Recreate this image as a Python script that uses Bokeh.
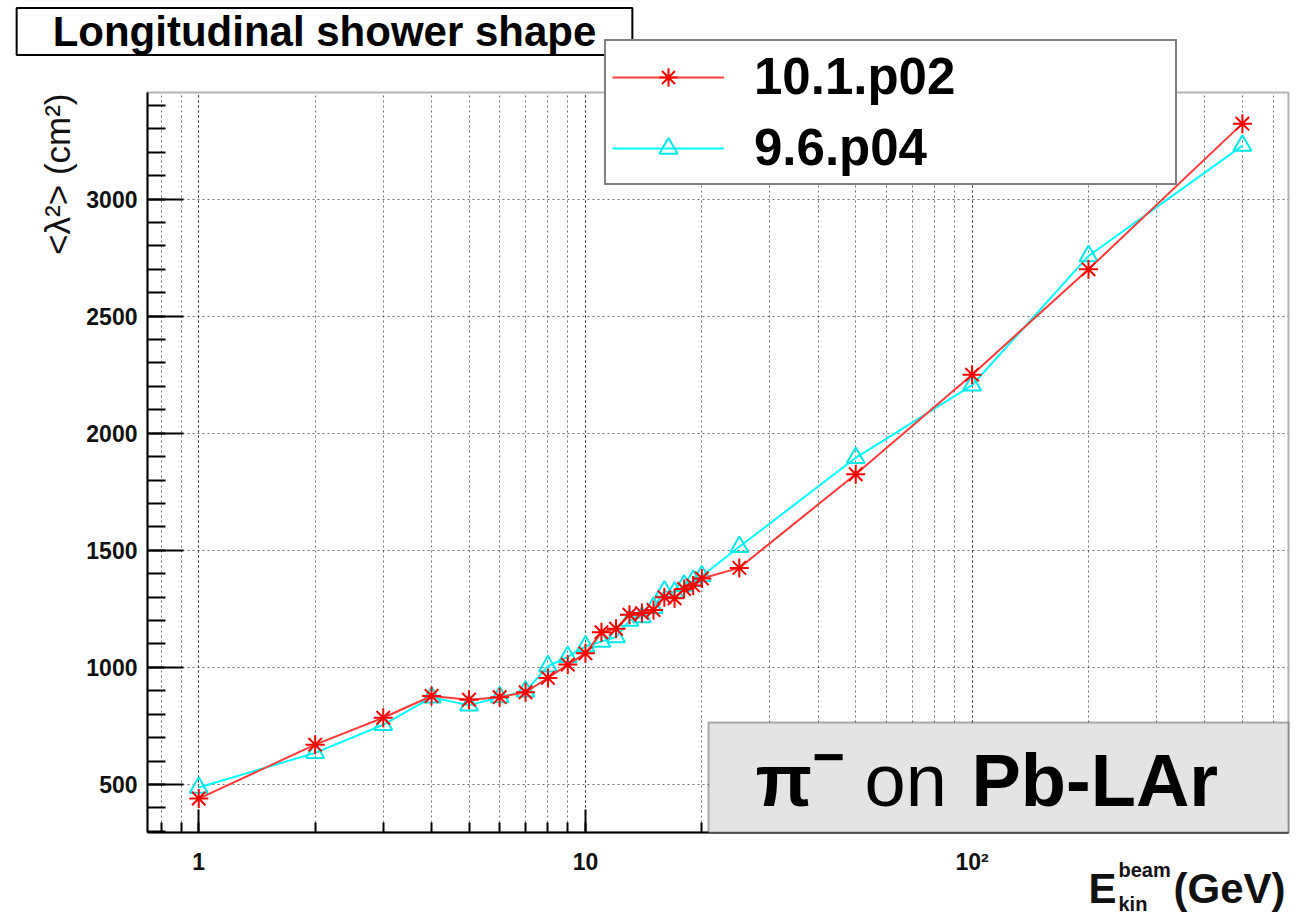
import math
from bokeh.plotting import figure
from bokeh.models import (Range1d, Label, Legend, LegendItem, BoxAnnotation,
                          SingleIntervalTicker, LogTicker)
from bokeh.embed import file_html
from bokeh.resources import INLINE

# ---- data ----
energy = [1, 2, 3, 4, 5, 6, 7, 8, 9, 10, 11, 12, 13, 14, 15, 16, 17, 18, 19, 20,
          25, 50, 100, 200, 500]
lam2_v101p02 = [440, 670, 785, 878, 862, 873, 894, 955, 1012, 1060, 1150, 1165, 1225,
                1232, 1245, 1300, 1295, 1335, 1350, 1380, 1425, 1825, 2250, 2700, 3322]
lam2_v96p04 = [487, 635, 755, 872, 838, 873, 898, 1005, 1045, 1090, 1110, 1130, 1200,
               1215, 1255, 1325, 1320, 1350, 1370, 1390, 1515, 1895, 2205, 2757, 3228]
series_names = ["10.1.p02", "9.6.p04"]
x_tick_labels = {1: "1", 10: "10", 100: "10\u00b2"}
x_lo, x_hi = 0.737, 658.0      # axis range of the plot frame
y_lo, y_hi = 295.0, 3455.0

# ---- layout (pixels on the canvas) ----
W, H = 1300, 918
FL, FR, FT, FB = 147, 1288, 92, 832     # the visible plot frame
FONT = "Liberation Sans"

dec_px = (math.log10(x_hi) - math.log10(x_lo)) / (FR - FL)
x_start = 10 ** (math.log10(x_lo) - FL * dec_px)
x_end = 10 ** (math.log10(x_hi) + (W - FR) * dec_px)
y_px = (y_hi - y_lo) / (FB - FT)
y_start = y_lo - (H - FB) * y_px
y_end = y_hi + FT * y_px


def sy(Y):
    return H - Y


def mid(baseline, size):
    # centre of a text box whose baseline lies at canvas row `baseline`
    return sy(baseline - 0.35 * size)


p = figure(x_axis_type="log", title=None,
           x_range=Range1d(x_start, x_end), y_range=Range1d(y_start, y_end),
           width=W, height=H, min_border=0,
           output_backend="svg", toolbar_location=None,
           background_fill_color="white", border_fill_color="white")
p.outline_line_color = None

# axes placed on the edges of the visible frame
p.xaxis.fixed_location = y_lo
p.yaxis.fixed_location = x_lo
p.xaxis.bounds = (x_lo, x_hi)
p.yaxis.bounds = (y_lo, y_hi)
p.yaxis.ticker = SingleIntervalTicker(interval=500, num_minor_ticks=5)
p.xaxis.ticker = LogTicker(mantissas=[1], num_minor_ticks=10)
p.xaxis.major_label_overrides = x_tick_labels
for ax in (p.xaxis[0], p.yaxis[0]):
    ax.axis_line_color = "black"
    ax.axis_line_width = 2
    ax.major_tick_line_color = "black"
    ax.minor_tick_line_color = "black"
    ax.major_tick_line_width = 2
    ax.minor_tick_line_width = 2
    ax.major_tick_out = 0
    ax.minor_tick_out = 0
    ax.major_label_text_font = FONT
    ax.major_label_text_font_style = "bold"
    ax.major_label_text_font_size = "23px"
    ax.major_label_text_color = "#111111"
p.yaxis.major_tick_in = 36
p.yaxis.minor_tick_in = 18
p.yaxis.major_label_standoff = 10
p.xaxis.major_tick_in = 23
p.xaxis.minor_tick_in = 10
p.xaxis.major_label_standoff = 16

# grid
GRID = "#333333"
p.xgrid.grid_line_color = GRID
p.xgrid.grid_line_dash = "2 3"
p.xgrid.grid_line_alpha = 0.7
p.xgrid.minor_grid_line_color = GRID
p.xgrid.minor_grid_line_dash = "2 3"
p.xgrid.minor_grid_line_alpha = 0.7
p.ygrid.grid_line_color = GRID
p.ygrid.grid_line_dash = "2 3"
p.ygrid.grid_line_alpha = 0.7
for g, cb in ((p.xgrid[0], (y_lo, y_hi)), (p.ygrid[0], (x_lo, x_hi))):
    if "cross_bounds" in g.properties():
        g.cross_bounds = cb

# white cover outside the visible frame (keeps grid lines inside it)
xa, xb = x_start * 0.5, x_end * 2
ya, yb = y_start - 500, y_end + 500
for kw in (dict(left=xa, right=xb, bottom=y_hi, top=yb),
           dict(left=xa, right=xb, bottom=ya, top=y_lo),
           dict(left=xa, right=x_lo, bottom=ya, top=yb),
           dict(left=x_hi, right=xb, bottom=ya, top=yb)):
    p.add_layout(BoxAnnotation(**kw, fill_color="white", fill_alpha=1,
                               line_color=None, level="underlay"))
# frame outline
p.add_layout(BoxAnnotation(left=x_lo, right=x_hi, bottom=y_lo, top=y_hi,
                           fill_alpha=0, line_color="black", line_width=2,
                           level="underlay"))

# data
l2 = p.line(energy, lam2_v96p04, line_color="#00ffff", line_width=2)
m2 = p.scatter(energy, lam2_v96p04, marker="triangle", size=18, fill_color=None,
               line_color="#00e8e8", line_width=2)
l1 = p.line(energy, lam2_v101p02, line_color="#ff3a3a", line_width=2)
m1 = p.scatter(energy, lam2_v101p02, marker="asterisk", size=19,
               line_color="#ff0000", line_width=2)

legend = Legend(items=[LegendItem(label=series_names[0], renderers=[l1, m1]),
                       LegendItem(label=series_names[1], renderers=[l2, m2])],
                location=(604, sy(185)), orientation="vertical",
                glyph_width=112, glyph_height=46, label_height=46, label_width=415,
                label_standoff=30, spacing=12, padding=6, margin=0,
                label_text_font=FONT, label_text_font_style="bold",
                label_text_font_size="51px", label_text_baseline="middle",
                label_text_color="black",
                border_line_color="black", border_line_width=2,
                background_fill_color="white", background_fill_alpha=1)
p.add_layout(legend, "center")

# title box
p.add_layout(Label(x=324, y=sy(31), x_units="screen", y_units="screen",
                   text="Longitudinal shower shape", text_font=FONT,
                   text_font_size="42px", text_font_style="bold", text_color="black",
                   text_align="center", text_baseline="middle",
                   background_fill_color="white", border_line_color="black",
                   border_line_width=2, padding=(36, 0)))

# pi box
p.add_layout(BoxAnnotation(left=708, right=FR, bottom=sy(FB), top=sy(722),
                           left_units="screen", right_units="screen",
                           bottom_units="screen", top_units="screen",
                           fill_color="#e4e4e4", fill_alpha=1,
                           line_color="black", line_width=2))
for txt, X, Y, size, style in [("\u03c0", 755, 806, 74, "bold"),
                               ("\u2212", 812, 776, 56, "bold"),
                               ("on", 864, 806, 74, "normal"),
                               ("Pb-LAr", 971, 806, 74, "bold")]:
    p.add_layout(Label(x=X, y=mid(Y, size), x_units="screen", y_units="screen",
                       text=txt, text_font=FONT, text_font_size=f"{size}px",
                       text_font_style=style, text_align="left",
                       text_baseline="middle", text_color="black"))

# y axis title (rotated)
p.add_layout(Label(x=57, y=sy(93), x_units="screen", y_units="screen",
                   text="<\u03bb\u00b2> (cm\u00b2)", angle=math.pi / 2,
                   text_font=FONT, text_font_size="35px",
                   text_align="right", text_baseline="middle", text_color="#111111"))

# x axis title
for txt, X, Y, size in [("E", 1088, 903, 42),
                        ("beam", 1118, 876, 20),
                        ("kin", 1118, 910, 20),
                        ("(GeV)", 1173, 903, 42)]:
    p.add_layout(Label(x=X, y=mid(Y, size), x_units="screen", y_units="screen",
                       text=txt, text_font=FONT, text_font_size=f"{size}px",
                       text_font_style="bold", text_align="left",
                       text_baseline="middle", text_color="#111111"))

# clean strip along the left canvas edge
p.add_layout(BoxAnnotation(left=0, right=8, bottom=0, top=H,
                           left_units="screen", right_units="screen",
                           bottom_units="screen", top_units="screen",
                           fill_color="white", fill_alpha=1, line_color=None,
                           level="overlay"))

open("out.html", "w").write(file_html(p, INLINE))
